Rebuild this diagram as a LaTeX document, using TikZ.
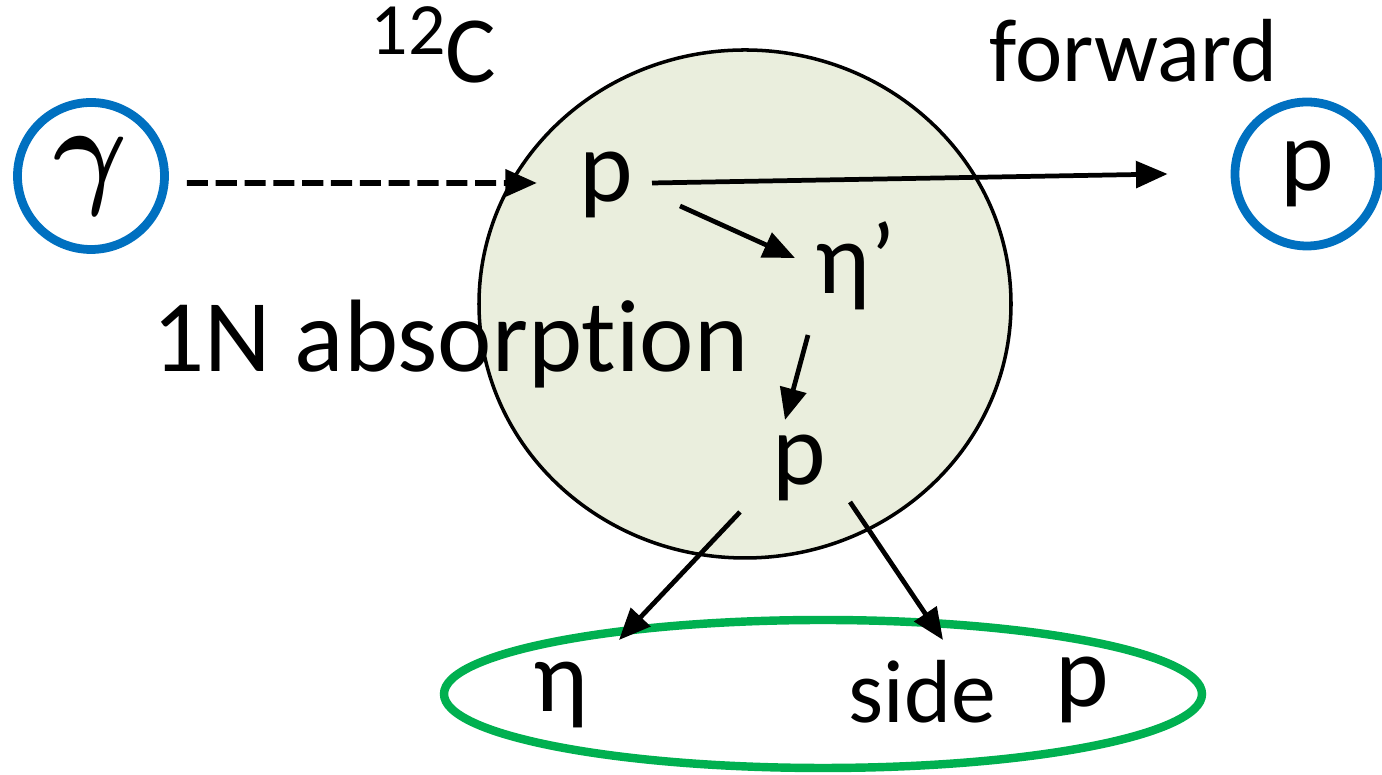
\documentclass[tikz,border=0pt]{standalone}
\usepackage{graphicx}
\usepackage{fontspec}
\setmainfont{Carlito}
\usepackage{tikz}
\usetikzlibrary{arrows.meta, shapes.geometric}
\usepackage{xcolor}
\definecolor{ringblue}{HTML}{0070C0}
\definecolor{ringgreen}{HTML}{00B050}
\definecolor{nucfill}{HTML}{EAEEDD}

\begin{document}
\begin{tikzpicture}[
      big/.style={font=\fontsize{29}{34}\selectfont, inner sep=0pt, anchor=base},
      mid/.style={font=\fontsize{25.5}{30}\selectfont, inner sep=0pt, anchor=base west},
      ring/.style={draw=ringblue, line width=2.5pt, circle, inner sep=0pt},
      arr/.style={-{Triangle[length=9pt, width=7.5pt]}, line width=1.35pt},
      darr/.style={arr, line width=1.6pt, dash pattern=on 6pt off 2.2pt},
    ]
    \useasboundingbox (0,0) rectangle (13.82,-7.75);

    %% --- nucleus and detector ---
    \node[ellipse, draw, line width=1pt, fill=nucfill, inner sep=0pt,
        minimum width=5.32cm, minimum height=5.08cm] (nucleus) at (7.45,-3.04) {};
    \node[ellipse, draw=ringgreen, line width=2.4pt, inner sep=0pt,
        minimum width=7.58cm, minimum height=1.48cm] (detect) at (8.23,-6.94) {};

    %% --- labels ---
    \node[anchor=base west, inner sep=0pt, font=\fontsize{27}{32}\selectfont] (target) at (3.70,-0.83)
    {\raisebox{0.28cm}{\fontsize{21}{24}\selectfont 12}C};
    \node[mid] (fwd) at (9.89,-0.82) {forward};
    \node[anchor=base west, inner sep=0pt, font=\fontsize{29.3}{34}\selectfont] (absorb) at (1.52,-3.72)
    {1N absorpt\kern0pt ion};

    %% --- particles ---
    \node[ring, minimum size=1.47cm, font=\fontsize{24.88}{30}\selectfont] (gamma) at (0.91,-1.76)
    {\scalebox{1.3}[1.4]{\boldmath$\gamma$}};
    \node[ring, minimum size=1.44cm, font=\fontsize{29}{34}\selectfont] (pout) at (13.07,-1.74) {p};
    \node[big] (p1) at (6.06,-2.02) {p};
    \node[big, anchor=base west] (etap) at (8.15,-2.94) {η’};
    \node[big] (p2) at (7.99,-4.85) {p};
    \node[big] (etaout) at (5.61,-7.12) {η};
    \node[mid] (side) at (8.48,-7.23) {side};
    \node[big] (pside) at (10.82,-7.07) {p};

    %% --- connectors ---
    \draw[darr] ([xshift=0.18cm,yshift=-0.07cm]gamma.east) -- ([xshift=-0.69cm,yshift=0.19cm]p1.base);
    \draw[arr] ([xshift=0.46cm,yshift=0.19cm]p1.base) -- ([xshift=-0.63cm]pout.west);
    \draw[arr] ([xshift=0.74cm,yshift=-0.04cm]p1.base) -- ([xshift=-0.2cm,yshift=0.36cm]etap.base west);
    \draw[arr] ([xshift=-0.07cm,yshift=-0.41cm]etap.base west) -- ([xshift=-0.14cm,yshift=0.65cm]p2.base);
    \draw[arr] ([xshift=-0.59cm,yshift=-0.27cm]p2.base) -- ([xshift=0.58cm,yshift=0.72cm]etaout.base);
    \draw[arr] ([xshift=0.51cm,yshift=-0.17cm]p2.base) -- ([xshift=0.95cm,yshift=0.83cm]side.base west);

\end{tikzpicture}
\end{document}
